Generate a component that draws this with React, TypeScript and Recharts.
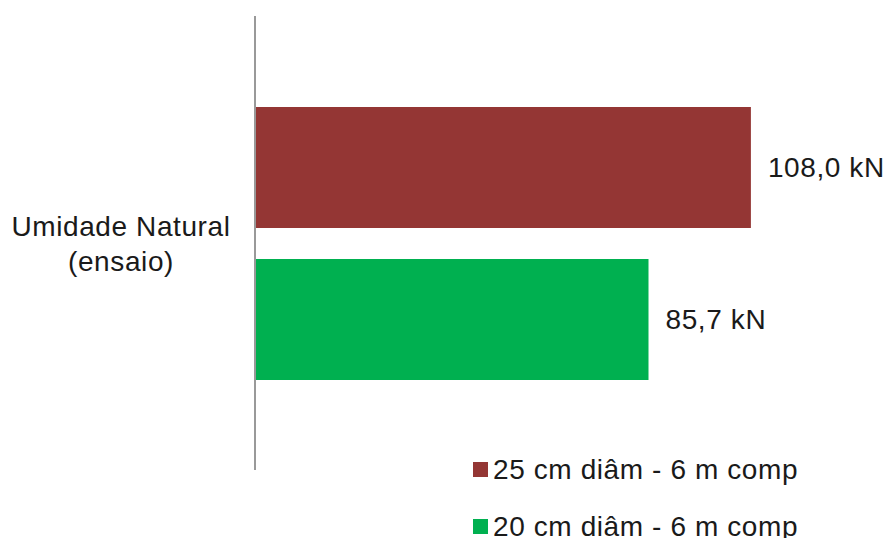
import { BarChart, Bar, XAxis, YAxis, Legend, LabelList } from "recharts";

const categories = ["Umidade Natural (ensaio)"];
const seriesNames = ["25 cm diâm - 6 m comp", "20 cm diâm - 6 m comp"];
const values25 = [108.0];
const values20 = [85.7];
const COLORS = ["#943634", "#00B050"];

const FONT = "'Liberation Sans', Arial, sans-serif";
const TEXT = "#1a1a1a";
const SPACING = 0.6;

const data = categories.map((name, i) => ({
  name,
  s25: values25[i],
  s20: values20[i],
}));

const fmt = (v: number) => `${v.toFixed(1).replace(".", ",")} kN`;

function CategoryTick(props: any) {
  const { y, payload } = props;
  const lines = ["Umidade Natural", "(ensaio)"];
  const parts = payload.value === categories[0] ? lines : [payload.value];
  return (
    <text x={121} y={y} textAnchor="middle" fontFamily={FONT} fontSize={28} fill={TEXT} letterSpacing={SPACING}>
      {parts.map((p: string, i: number) => (
        <tspan key={i} x={121} dy={i === 0 ? -7 : 35}>
          {p}
        </tspan>
      ))}
    </text>
  );
}

function LegendBox() {
  return (
    <div style={{ fontFamily: FONT, fontSize: 28, color: TEXT, letterSpacing: SPACING }}>
      {seriesNames.map((n, i) => (
        <div key={n} style={{ display: "flex", alignItems: "center", height: 57, whiteSpace: "nowrap" }}>
          <span style={{ width: 15, height: 15, background: COLORS[i], marginRight: 5, display: "inline-block" }} />
          <span>{n}</span>
        </div>
      ))}
    </div>
  );
}

export default function App() {
  return (
    <div style={{ position: "absolute", left: 0, top: 0, width: 885, height: 538, background: "#fff" }}>
      <BarChart
        width={885}
        height={538}
        data={data}
        layout="vertical"
        margin={{ top: 16, right: 79, bottom: 68, left: 0 }}
        barSize={121}
        barGap={31}
      >
        <XAxis type="number" domain={[0, 120]} hide />
        <YAxis
          type="category"
          dataKey="name"
          width={255}
          axisLine={{ stroke: "#999999", strokeWidth: 2 }}
          tickLine={false}
          tick={<CategoryTick />}
        />
        <Legend
          layout="vertical"
          align="center"
          verticalAlign="middle"
          content={() => <LegendBox />}
          wrapperStyle={{ left: 473, top: 441, width: 400, height: 114 }}
        />
        <Bar dataKey="s25" name={seriesNames[0]} fill={COLORS[0]} isAnimationActive={false}>
          <LabelList dataKey="s25" position="right" offset={17} formatter={(v: any) => fmt(Number(v))} fontFamily={FONT} fontSize={28} fill={TEXT} letterSpacing={SPACING} />
        </Bar>
        <Bar dataKey="s20" name={seriesNames[1]} fill={COLORS[1]} isAnimationActive={false}>
          <LabelList dataKey="s20" position="right" offset={17} formatter={(v: any) => fmt(Number(v))} fontFamily={FONT} fontSize={28} fill={TEXT} letterSpacing={SPACING} />
        </Bar>
      </BarChart>
    </div>
  );
}
